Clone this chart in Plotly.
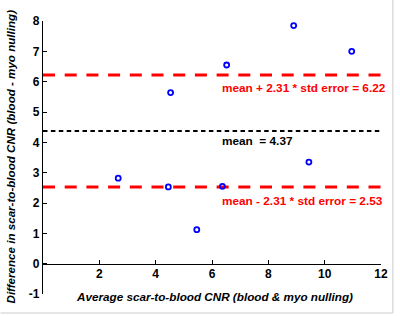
import plotly.graph_objects as go

avg_cnr = [2.67, 4.45, 4.53, 5.46, 6.37, 6.52, 8.90, 9.44, 10.96]
diff_cnr = [2.82, 2.53, 5.64, 1.12, 2.55, 6.55, 7.85, 3.35, 7.00]
mean_val = 4.37
upper_val = 6.22
lower_val = 2.53
line_x = [0, 12]
x_ticks = [2, 4, 6, 8, 10, 12]
y_ticks = [-1, 0, 1, 2, 3, 4, 5, 6, 7, 8]
y_tick_labels = ["-1", "0", "1", "2", "3", "4", "5", "6", "7", "8"]

FONT = "Liberation Sans, Arial, sans-serif"
L, R, T, B = 43, 14, 21, 22
W, H = 400, 316
PW, PH = W - L - R, H - T - B


def px_x(px):
    return (px - L) / PW


def px_y(py):
    return (H - B - py) / PH


fig = go.Figure()
fig.add_trace(go.Scatter(x=line_x, y=[upper_val]*2, mode="lines",
                         line=dict(color="#ff0000", width=3, dash="12px,9.7px"), hoverinfo="skip"))
fig.add_trace(go.Scatter(x=line_x, y=[lower_val]*2, mode="lines",
                         line=dict(color="#ff0000", width=3, dash="12px,9.7px"), hoverinfo="skip"))
fig.add_trace(go.Scatter(x=line_x, y=[mean_val]*2, mode="lines",
                         line=dict(color="black", width=2, dash="4.5px,3.4px"), hoverinfo="skip"))
fig.add_trace(go.Scatter(x=avg_cnr, y=diff_cnr, mode="markers",
                         marker=dict(symbol="circle-open", size=5, color="#0000ff",
                                     line=dict(width=1.8, color="#0000ff"))))

fig.update_layout(
    width=W, height=H,
    margin=dict(l=L, r=R, t=T, b=B),
    paper_bgcolor="white", plot_bgcolor="white",
    showlegend=False,
    font=dict(family=FONT, size=12, color="black"),
    xaxis=dict(range=[0, 12], tickvals=x_ticks, ticks="inside", ticklen=4,
               tickwidth=1.3, tickcolor="black", showline=True, linecolor="black",
               linewidth=1.3, showgrid=False, zeroline=False, anchor="free",
               position=1/9, ticklabelstandoff=-1,
               tickfont=dict(family=FONT, size=12, weight="bold")),
    yaxis=dict(range=[-1, 8], tickvals=y_ticks, ticktext=y_tick_labels, ticks="inside",
               ticklen=4, tickwidth=1.3, tickcolor="black", showline=True,
               linecolor="black", linewidth=1.3, showgrid=False, zeroline=False,
               tickfont=dict(family=FONT, size=12, weight="bold")),
    shapes=[
        dict(type="line", xref="paper", yref="paper", x0=px_x(0), x1=px_x(398),
             y0=px_y(313), y1=px_y(313), line=dict(color="#dcdcdc", width=1.5)),
        dict(type="line", xref="paper", yref="paper", x0=px_x(398), x1=px_x(398),
             y0=px_y(0), y1=px_y(313), line=dict(color="#dcdcdc", width=1.5)),
    ],
)

ann_font_red = dict(family=FONT, size=11.8, color="#ff0000", weight="bold")
fig.add_annotation(x=6.29, y=5.78, xref="x", yref="y", text="mean + 2.31 * std error = 6.22",
                   showarrow=False, xanchor="left", yanchor="middle", font=ann_font_red)
fig.add_annotation(x=6.29, y=4.03, xref="x", yref="y", text="mean  = 4.37",
                   showarrow=False, xanchor="left", yanchor="middle",
                   font=dict(family=FONT, size=11.8, color="black", weight="bold"))
fig.add_annotation(x=6.29, y=2.06, xref="x", yref="y", text="mean - 2.31 * std error = 2.53",
                   showarrow=False, xanchor="left", yanchor="middle", font=ann_font_red)

fig.add_annotation(x=px_x(217.5), y=px_y(296), xref="paper", yref="paper",
                   text="<i>Average scar-to-blood CNR (blood &amp; myo nulling)</i>",
                   showarrow=False, xanchor="center", yanchor="middle",
                   font=dict(family=FONT, size=11.7, weight="bold"))
fig.add_annotation(x=px_x(10), y=px_y(156), xref="paper", yref="paper",
                   text="<i>Difference in scar-to-blood CNR (blood - myo nulling)</i>",
                   showarrow=False, textangle=-90, xanchor="center", yanchor="middle",
                   font=dict(family=FONT, size=11.6, weight="bold"))

fig.write_html("out.html", post_script="document.body.style.margin='0';",
               config={"displayModeBar": False})
